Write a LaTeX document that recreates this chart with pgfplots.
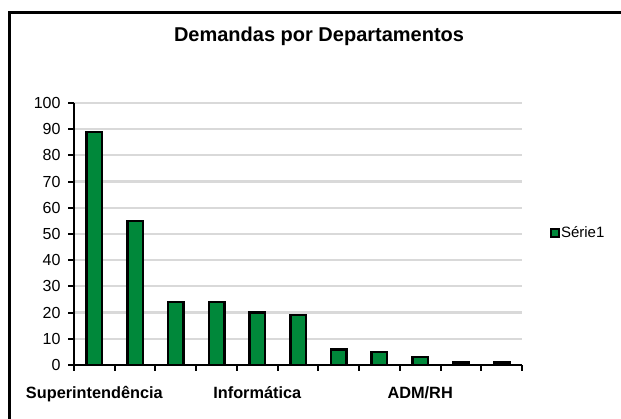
\documentclass[border=0pt]{standalone}
\usepackage{fontspec}
\setmainfont{Liberation Sans}
\usepackage{pgfplots}
\pgfplotsset{compat=1.18}
\definecolor{barg}{RGB}{0,136,58}
\definecolor{gridg}{RGB}{217,217,217}
\begin{document}
\begin{tikzpicture}
\path[use as bounding box] (0pt,0pt) rectangle (621pt,419pt);
\draw[line width=2.7pt] (9.7pt,0pt) -- (9.7pt,406.7pt) -- (621pt,406.7pt);
\begin{axis}[
  at={(74pt,54pt)}, anchor=south west,
  scale only axis, width=448pt, height=262pt,
  xmin=0.5, xmax=11.5, ymin=0, ymax=100,
  axis lines*=left,
  axis line style={line width=2.5pt, black},
  ytick={0,10,...,100},
  xtick={0.5,1.5,...,11.5}, xticklabels={},
  tick align=outside, major tick length=6pt,
  tick style={black, line width=2pt},
  ymajorgrids, grid style={gridg, line width=2.2pt},
  extra x ticks={1,5,9},
  extra x tick labels={Superintendência,Informática,ADM/RH},
  extra x tick style={major tick length=0pt,
    xticklabel style={font=\fontsize{16.3}{19}\selectfont\bfseries, yshift=-18pt}},
  yticklabel style={font=\fontsize{16}{19}\selectfont, xshift=-4pt},
  /pgf/number format/assume math mode=true,
  title={Demandas por Departamentos},
  title style={font=\fontsize{20}{24}\selectfont\bfseries, at={(axis description cs:0.547,1.231)}, anchor=center},
  legend style={at={(1.0625,0.504)}, anchor=west, draw=none, fill=none,
    font=\fontsize{15}{18}\selectfont, inner sep=0pt, nodes={inner sep=1pt}},
  ybar, bar width=15.5pt,
]
\addplot[fill=barg, draw=black, line width=2.5pt,
  legend image code/.code={\draw[fill=barg,draw=black,line width=1.8pt] (0pt,-4pt) rectangle (8pt,4pt);}] coordinates {
  (1,89) (2,55) (3,24) (4,24) (5,20) (6,19) (7,6) (8,5) (9,3) (10,1) (11,1)
};
\addlegendentry{Série1}
\end{axis}
\end{tikzpicture}
\end{document}
